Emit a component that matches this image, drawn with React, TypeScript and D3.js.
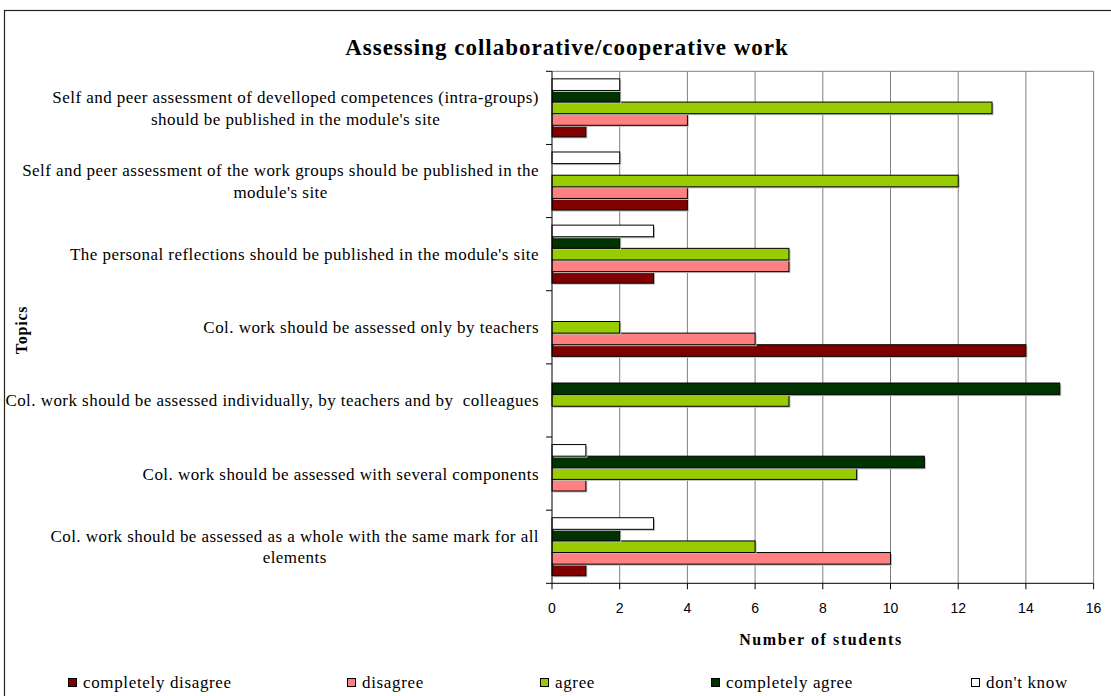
import React from 'react';
import * as d3 from 'd3';

const categoryLines: string[][] = [
  ["Self and peer assessment of develloped competences (intra-groups)", "should be published in the module's site"],
  ["Self and peer assessment of the work groups should be published in the", "module's site"],
  ["The personal reflections should be published in the module's site"],
  ["Col. work should be assessed only by teachers"],
  ["Col. work should be assessed individually, by teachers and by  colleagues"],
  ["Col. work should be assessed with several components"],
  ["Col. work should be assessed as a whole with the same mark for all", "elements"],
];

const seriesNames = ["completely disagree", "disagree", "agree", "completely agree", "don't know"];
const seriesColors = ["#800000", "#FF8080", "#99CC00", "#003300", "#FFFFFF"];

const completelyDisagree = [1, 4, 3, 14, 0, 0, 1];
const disagree = [4, 4, 7, 6, 0, 1, 10];
const agree = [13, 12, 7, 2, 7, 9, 6];
const completelyAgree = [2, 0, 2, 0, 15, 11, 2];
const dontKnow = [2, 2, 3, 0, 0, 1, 3];

const xTicks = [0, 2, 4, 6, 8, 10, 12, 14, 16];

const seriesValues = [completelyDisagree, disagree, agree, completelyAgree, dontKnow];

const W = 1111;
const H = 696;
const serif = "'Liberation Serif', 'Times New Roman', serif";
const sans = "'Liberation Sans', Arial, sans-serif";
const labelFontSize = 17;
const labelLetterSpacing = 0.45;

let canvasCtx: CanvasRenderingContext2D | null = null;
function measure(text: string, font: string, letterSpacing: number): number {
  if (!canvasCtx) {
    const c = document.createElement('canvas');
    canvasCtx = c.getContext('2d');
  }
  if (!canvasCtx) return text.length * 7;
  canvasCtx.font = font;
  return canvasCtx.measureText(text).width + letterSpacing * text.length;
}

export default function App() {
  const left = 552;
  const right = 1093.6;
  const top = 71.3;
  const bottom = 583.3;

  const x = d3.scaleLinear().domain([0, 16]).range([left, right]);
  const catIdx = categoryLines.map((_, i) => String(i));
  const y = d3.scaleBand<string>().domain(catIdx).range([top, bottom]).paddingInner(0).paddingOuter(0);
  const innerOrder = [4, 3, 2, 1, 0].map(String);
  const inner = d3.scaleBand<string>().domain(innerOrder).range([0, y.bandwidth()]).paddingInner(0).paddingOuter(0.65);

  const labelFont = `${labelFontSize}px 'Liberation Serif'`;
  const lineH = 21.5;
  const labelRight = 539;

  const boundaries = d3.range(categoryLines.length + 1).map(i => top + i * y.step());

  const legendX = [68, 347, 540, 711, 971];

  return (
    <svg width={W} height={H} style={{ position: 'absolute', left: 0, top: 0, background: '#fff' }}>
      <rect x={0} y={0} width={W} height={H} fill="#fff" />
      <rect x={4.5} y={10.5} width={W + 50} height={H + 50} fill="none" stroke="#222" strokeWidth={1.2} />

      <text x={567} y={55} textAnchor="middle" fontFamily={serif} fontWeight="bold" fontSize={23} letterSpacing={1} fill="#000">
        Assessing collaborative/cooperative work
      </text>

      {/* plot top border */}
      <line x1={left} x2={right} y1={top} y2={top} stroke="#808080" strokeWidth={1} />
      {/* gridlines */}
      {xTicks.filter(t => t > 0).map(t => (
        <line key={'g' + t} x1={x(t)} x2={x(t)} y1={top} y2={bottom} stroke="#808080" strokeWidth={1} />
      ))}

      {/* bars */}
      {categoryLines.map((_, ci) => (
        <g key={'c' + ci}>
          {seriesValues.map((vals, si) => {
            const v = vals[ci];
            if (!v) return null;
            const by = (y(String(ci)) as number) + (inner(String(si)) as number);
            const bh = inner.bandwidth();
            return (
              <g key={'b' + si}>
                <rect x={x(0) + 1.5} y={by + 1.5} width={x(v) - x(0)} height={bh} fill="#bdbdbd" />
                <rect x={x(0)} y={by} width={x(v) - x(0)} height={bh} fill={seriesColors[si]} stroke="#000" strokeWidth={1} />
              </g>
            );
          })}
        </g>
      ))}

      {/* axes */}
      <line x1={left} x2={left} y1={top} y2={bottom} stroke="#000" strokeWidth={1} />
      {boundaries.map((b, i) => (
        <line key={'yt' + i} x1={left - 6} x2={left} y1={b} y2={b} stroke="#000" strokeWidth={1} />
      ))}
      <line x1={left} x2={right} y1={bottom} y2={bottom} stroke="#000" strokeWidth={1} />
      {xTicks.map(t => (
        <g key={'xt' + t}>
          <line x1={x(t)} x2={x(t)} y1={bottom} y2={bottom + 6} stroke="#000" strokeWidth={1} />
          <text x={x(t)} y={613} textAnchor="middle" fontFamily={sans} fontSize={14} fill="#000">{t}</text>
        </g>
      ))}

      {/* category labels */}
      {categoryLines.map((lines, ci) => {
        const maxW = Math.max(...lines.map(l => measure(l, labelFont, labelLetterSpacing)));
        const cx = labelRight - maxW / 2;
        const cy = (y(String(ci)) as number) + y.bandwidth() / 2;
        const y0 = cy - ((lines.length - 1) * lineH) / 2;
        return (
          <text key={'l' + ci} textAnchor="middle" fontFamily={serif} fontSize={labelFontSize} fill="#000"
            letterSpacing={labelLetterSpacing} style={{ whiteSpace: 'pre' }}>
            {lines.map((l, li) => (
              <tspan key={li} x={cx} y={y0 + li * lineH} dy="0.35em">{l}</tspan>
            ))}
          </text>
        );
      })}

      <text transform="translate(27,330) rotate(-90)" textAnchor="middle" fontFamily={serif} fontWeight="bold" fontSize={16} letterSpacing={0.8} fill="#000">
        Topics
      </text>
      <text x={821} y={645} textAnchor="middle" fontFamily={serif} fontWeight="bold" fontSize={16} letterSpacing={1.6} fill="#000">
        Number of students
      </text>

      {/* legend */}
      {seriesNames.map((n, i) => (
        <g key={'lg' + i}>
          <rect x={legendX[i] + 0.5} y={678.5} width={8} height={8} fill={seriesColors[i]} stroke="#000" strokeWidth={1} />
          <text x={legendX[i] + 15} y={688} fontFamily={serif} fontSize={17} letterSpacing={0.65} fill="#000">{n}</text>
        </g>
      ))}
    </svg>
  );
}
